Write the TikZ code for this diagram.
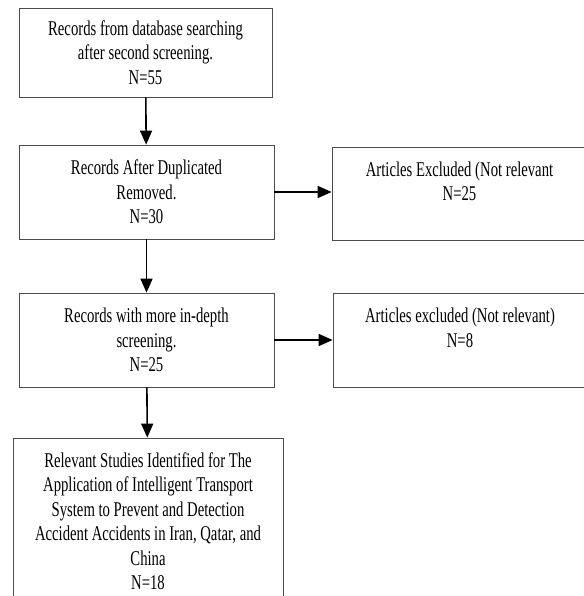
\documentclass[tikz,border=0pt]{standalone}
\usepackage{fontspec}
\setmainfont{Liberation Serif}[FakeStretch=0.7]
\usetikzlibrary{arrows.meta}

\begin{document}
\begin{tikzpicture}[x=1pt, y=-1pt,
		box_style/.style={rectangle,draw=black!70,line width=0.8pt,fill=white,align=center,
			inner sep=2pt,font=\fontsize{21}{24.5}\selectfont},
		arrow_style/.style={draw=black,line width=1.6pt,-{Triangle[width=12pt,length=14pt]}}]
		
		\useasboundingbox (0,0) rectangle (583,596);
		
		\node[box_style,minimum width=253pt,minimum height=89pt] (rec55) at (145.5,52.5)
			{Records from database searching\\after second screening.\\N=55};
		\node[box_style,minimum width=255pt,minimum height=94pt] (rec30) at (146.5,192)
			{Records After Duplicated\\Removed.\\N=30};
		\node[box_style,minimum width=255pt,minimum height=93pt] (exc25) at (459.5,193.5)
			{Articles Excluded (Not relevant\\N=25\\\mbox{}};
		\node[box_style,minimum width=255pt,minimum height=94pt] (rec25) at (146.5,340)
			{Records with more in-depth\\screening.\\N=25};
		\node[box_style,minimum width=254pt,minimum height=94pt] (exc8) at (460,340)
			{Articles excluded (Not relevant)\\N=8\\\mbox{}};
		\node[box_style,minimum width=270pt,minimum height=166pt] (rel18) at (148,521)
			{Relevant Studies Identified for The\\Application of Intelligent Transport\\System to Prevent and Detection\\Accident Accidents in Iran, Qatar, and\\China\\N=18};
		
		\draw[arrow_style] (rec55) -- (rec30);
		\draw[arrow_style] (rec30.east) -- (rec30.east -| exc25.west);
		\draw[arrow_style] (rec30) -- (rec25);
		\draw[arrow_style] (rec25) -- (exc8);
		\draw[arrow_style] (rec25) -- (rel18);
		
\end{tikzpicture}
\end{document}
